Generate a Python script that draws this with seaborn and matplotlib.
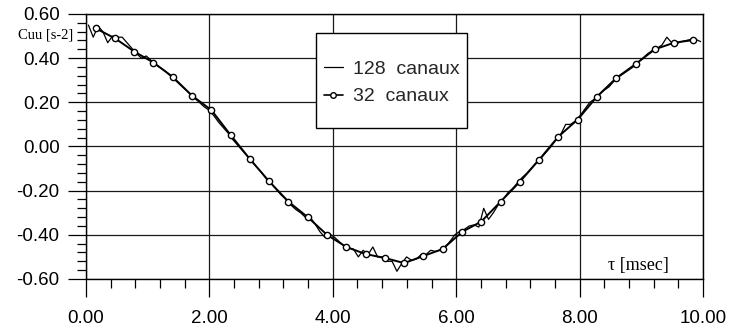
import numpy as np
import pandas as pd
import matplotlib
matplotlib.use("Agg")
import matplotlib.pyplot as plt
import seaborn as sns
from matplotlib.ticker import MultipleLocator, FuncFormatter
from matplotlib.patches import Rectangle
from matplotlib.lines import Line2D

# ---- data ----
t128 = [(i + 0.5) * 10.0 / 128 for i in range(128)]
c128 = [
    0.55, 0.495, 0.545, 0.52, 0.47, 0.50, 0.495, 0.495,
    0.47, 0.445, 0.42, 0.40, 0.41, 0.39, 0.37, 0.355,
    0.34, 0.32, 0.30, 0.28, 0.26, 0.24, 0.22, 0.20,
    0.18, 0.165, 0.14, 0.11, 0.085, 0.06, 0.03, 0.005,
    -0.02, -0.045, -0.07, -0.095, -0.12, -0.15, -0.17, -0.195,
    -0.22, -0.24, -0.265, -0.285, -0.30, -0.32, -0.32, -0.35,
    -0.385, -0.41, -0.395, -0.41, -0.43, -0.45, -0.46, -0.465,
    -0.50, -0.47, -0.49, -0.455, -0.50, -0.50, -0.52, -0.52,
    -0.565, -0.53, -0.50, -0.515, -0.51, -0.49, -0.49, -0.47,
    -0.475, -0.47, -0.455, -0.43, -0.40, -0.385, -0.375, -0.36,
    -0.355, -0.365, -0.28, -0.33, -0.30, -0.265, -0.24, -0.21,
    -0.19, -0.165, -0.14, -0.12, -0.095, -0.07, -0.05, -0.025,
    0.0, 0.03, 0.055, 0.10, 0.10, 0.115, 0.14, 0.17,
    0.20, 0.215, 0.235, 0.255, 0.27, 0.295, 0.315, 0.33,
    0.345, 0.36, 0.38, 0.40, 0.42, 0.435, 0.445, 0.46,
    0.495, 0.47, 0.465, 0.475, 0.48, 0.485, 0.485, 0.475,
]
t32 = [(k + 0.5) * 10.0 / 32 for k in range(32)]
c32 = [
    0.535, 0.49, 0.43, 0.38, 0.315, 0.23, 0.165, 0.052,
    -0.057, -0.158, -0.25, -0.32, -0.40, -0.455, -0.487, -0.505,
    -0.528, -0.496, -0.464, -0.387, -0.34, -0.25, -0.16, -0.06,
    0.045, 0.122, 0.226, 0.31, 0.373, 0.44, 0.47, 0.482,
]
labels = ["128  canaux", "32  canaux"]
xticks = [0, 2, 4, 6, 8, 10]
yticks = [-0.6, -0.4, -0.2, 0.0, 0.2, 0.4, 0.6]

df128 = pd.DataFrame({"t": t128, "c": c128})
df32 = pd.DataFrame({"t": t32, "c": c32})

sns.set_theme(style="white")
plt.rcParams["font.family"] = ["Liberation Sans", "DejaVu Sans"]
plt.rcParams["axes.unicode_minus"] = False

fig = plt.figure(figsize=(7.32, 3.27), dpi=100)
ax = fig.add_axes([0.1175, 0.1468, 0.8429, 0.8104])

sns.lineplot(data=df128, x="t", y="c", ax=ax, color="black", lw=0.9,
             estimator=None, sort=False, zorder=4)
sns.lineplot(data=df32, x="t", y="c", ax=ax, color="black", lw=1.4,
             marker="o", markersize=4.5, markerfacecolor="white",
             markeredgecolor="black", markeredgewidth=1.0,
             estimator=None, sort=False, zorder=5)

ax.set_xlim(0, 10)
ax.set_ylim(-0.6, 0.6)
ax.set_xticks(xticks)
ax.set_yticks(yticks)
ax.xaxis.set_minor_locator(MultipleLocator(0.4))
ax.yaxis.set_minor_locator(MultipleLocator(0.04))
fmt = FuncFormatter(lambda v, p: f"{v:.2f}")
ax.xaxis.set_major_formatter(fmt)
ax.yaxis.set_major_formatter(fmt)
ax.grid(True, which="major", color="#1a1a1a", lw=0.9)
ax.set_axisbelow(True)
for s in ax.spines.values():
    s.set_color("black")
    s.set_linewidth(1.0)
    s.set_visible(True)

ax.tick_params(axis="both", which="both", bottom=True, left=True,
               right=False, top=False)
ax.tick_params(axis="both", which="major", direction="out", length=13,
               width=0.9, color="black", labelsize=13.5, labelcolor="black")
ax.tick_params(axis="x", which="major", pad=9)
ax.tick_params(axis="y", which="major", pad=6)
ax.tick_params(axis="both", which="minor", direction="out", length=6.3,
               width=0.9, color="black")
ax.set_xlabel("")
ax.set_ylabel("")

# legend box
rect = Rectangle((0.373, 0.57), 0.244, 0.358, transform=ax.transAxes,
                 facecolor="white", edgecolor="black", lw=1.0, zorder=6)
ax.add_patch(rect)
h1 = Line2D([], [], color="black", lw=0.9)
h2 = Line2D([], [], color="black", lw=1.2, marker="o", markersize=4,
            markerfacecolor="white", markeredgecolor="black")
leg = ax.legend([h1, h2], labels, loc="center", bbox_to_anchor=(0.496, 0.74),
                frameon=False, fontsize=14, handlelength=0.95,
                handletextpad=0.55, labelspacing=0.5, borderpad=0)
leg.set_zorder(7)

fig.text(46 / 732, 1 - 35 / 327, "Cuu [s-2]", family="Liberation Serif",
         fontsize=10.5, ha="center", va="center", color="black")
ax.text(0.944, 0.05, "τ [msec]", transform=ax.transAxes,
        family=["Liberation Serif", "DejaVu Serif"], fontsize=13,
        ha="right", va="center", color="black", zorder=8)

fig.savefig("out.png", dpi=100)
